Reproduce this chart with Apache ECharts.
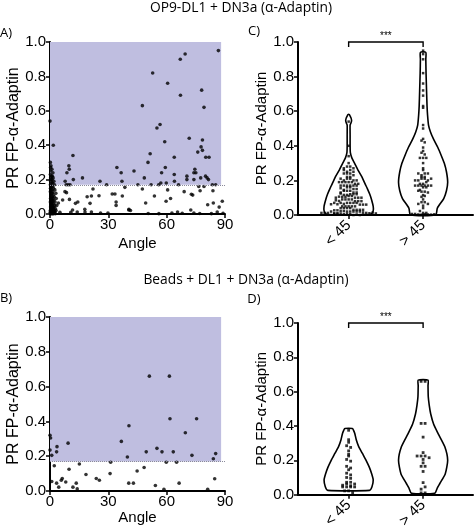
<!DOCTYPE html>
<html><head><meta charset="utf-8">
<script src="https://cdn.jsdelivr.net/npm/echarts@6/dist/echarts.min.js"></script>
<style>html,body{margin:0;padding:0;background:#fff}#c{width:474px;height:531px}</style>
</head><body><div id="c"></div>
<script>
// ---------------- DATA ----------------
// Panel A: OP9-DL1 + DN3a, [angle, PR]
const opPointsHigh = [
  [86.6,0.95],[69.5,0.93],[67.0,0.90],[52.8,0.82],[60.5,0.76],[67.1,0.69],[78.0,0.72],[79.2,0.62],[47.5,0.63],
  [56.6,0.52],[55.0,0.50],[71.6,0.44],[78.4,0.43],[59.0,0.42],[77.7,0.39],[78.4,0.37],[76.0,0.36],[80.1,0.33],
  [81.8,0.33],[63.9,0.33],[51.5,0.35],[50.4,0.30],[59.3,0.27],[57.4,0.24],[63.9,0.23],[74.5,0.26],[74.0,0.24],
  [75.0,0.24],[70.4,0.22],[70.4,0.20],[74.0,0.20],[77.5,0.21],[80.0,0.22],[80.8,0.21],[81.5,0.20],[59.8,0.18],
  [55.9,0.17],[45.2,0.17],[52.0,0.17],[66.1,0.17],[83.5,0.17],[85.2,0.17],[60.5,0.14],[47.5,0.145],[53.7,0.105],
  [72.7,0.115],[73.4,0.11],[83.8,0.135],[77.2,0.135],[79.2,0.16],[49.2,0.064],[59.7,0.074],[88.6,0.074],
  [81.1,0.054],[84.0,0.064],[72.4,0.023],[65.6,0.012],[62.7,0.006],[74.0,0.006],[86.0,0.012],
  [50.5,0.003],[56.0,0.002],[68.0,0.004],[77.0,0.003],[83.0,0.002],[89.0,0.004],
  [57.0,0.18],[64.0,0.19],[76.5,0.16],[48.5,0.21],[69.0,0.13],[62.0,0.09],[87.0,0.04]
];
const opPointsLow = [
  [1.7,0.40],[0,0.54],[11.8,0.34],[9.9,0.26],[8.7,0.24],[16.7,0.21],[34.4,0.27],[25.7,0.19],[29.1,0.17],
  [37.0,0.19],[38.5,0.155],[43.2,0.25],[7.8,0.19],[8.3,0.17],[9.3,0.17],[10.3,0.17],[22.1,0.145],[19.1,0.10],
  [13.1,0.062],[14.3,0.07],[8.5,0.124],[10.0,0.085],[6.5,0.081],[17.9,0.027],[14.0,0.012],[18.0,0.012],
  [21.3,0.012],[26.0,0.006],[29.8,0.006],[20.6,0.062],[25.2,0.106],[32.0,0.116],[33.4,0.116],[34.0,0.07],
  [34.0,0.05],[37.2,0.105],[41.4,0.02],[40.6,0.027],[5.1,0.01],[10.7,0.01],[4.3,0.064],[7.7,0.13],
  [11.6,0.023],[21.3,0.105],[36.6,0.24],[40.5,0.023],[9.7,0.28],[12.0,0.2]
];
const opPointsNearAxis = [
  [0.2,0.30],[0.5,0.28],[0.3,0.27],[1.0,0.26],[0.4,0.25],[1.5,0.24],[0.2,0.23],[0.8,0.22],[1.2,0.22],[0.3,0.21],
  [1.6,0.21],[0.6,0.20],[1.1,0.20],[2.0,0.19],[0.4,0.19],[0.9,0.18],[1.4,0.18],[0.2,0.17],[2.3,0.17],[0.7,0.16],
  [1.3,0.16],[0.3,0.15],[1.8,0.15],[0.5,0.14],[1.0,0.14],[2.5,0.14],[0.2,0.13],[1.5,0.13],[0.8,0.12],[1.2,0.12],
  [3.0,0.12],[0.4,0.11],[1.7,0.11],[0.6,0.10],[1.1,0.10],[2.2,0.10],[0.3,0.09],[0.9,0.09],[1.6,0.09],[3.2,0.09],
  [0.5,0.08],[1.3,0.08],[2.0,0.08],[0.2,0.07],[0.8,0.07],[1.4,0.07],[2.6,0.07],[0.4,0.06],[1.0,0.06],[1.8,0.06],
  [0.6,0.05],[1.2,0.05],[2.4,0.05],[3.5,0.05],[0.3,0.04],[0.9,0.04],[1.5,0.04],[2.1,0.04],[0.5,0.03],[1.1,0.03],
  [1.9,0.03],[2.8,0.03],[0.2,0.02],[0.7,0.02],[1.3,0.02],[2.0,0.02],[3.1,0.02],[0.4,0.015],[1.0,0.012],[1.6,0.01],
  [2.5,0.014],[0.1,0.008],[0.6,0.005],[1.2,0.007],[1.8,0.005],[2.3,0.009],[0.3,0.0],[0.9,0.003],[1.5,0.0],[2.7,0.002]
];
// Panel B: Beads + DL1 + DN3a, [angle, PR]
const beadPoints = [
  [51.1,0.66],[61.4,0.66],[61.7,0.415],[75.4,0.415],[40.6,0.375],[69.6,0.335],[36.7,0.285],[9.3,0.275],[0,0.32],
  [0.3,0.305],[3.6,0.255],[3.4,0.225],[0.9,0.205],[0,0.235],[39.8,0.195],[49.5,0.225],[55.0,0.245],[57.6,0.225],
  [63.4,0.225],[73.0,0.205],[85.2,0.215],[84.0,0.185],[59.8,0.165],[65.1,0.165],[31.2,0.165],[2.2,0.145],
  [9.8,0.125],[15.1,0.155],[30.9,0.10],[18.5,0.095],[48.4,0.135],[44.8,0.115],[84.7,0.07],[0.9,0.055],
  [3.4,0.045],[6.3,0.072],[5.8,0.062],[8.1,0.052],[4.5,0.022],[11.8,0.022],[13.5,0.045],[14.0,0.012],
  [23.8,0.072],[25.4,0.062],[40.5,0.045],[42.9,0.045],[54.2,0.032],[58.6,0.01],[66.4,0.045],[81.1,0.01]
];
const threshold = 0.17;          // PR threshold (dotted line / shading bottom)
const shadeAngleMax = 88;        // shaded region right edge (angle)
const splitAngle = 45;
const groupLabels = ['< 45', '> 45'];
const groupPos = [1, 2];
const angleTicks = [0, 30, 60, 90];
const prTicks = [0, 0.2, 0.4, 0.6, 0.8, 1.0];
const sigLabel = '***';
// Violin density profiles (PR level, relative density 0..1)
const violinC_lowLevels  = [0.003,0.01,0.025,0.05,0.09,0.12,0.15,0.18,0.22,0.26,0.30,0.33,0.36,0.40,0.46,0.52,0.53,0.545,0.56,0.572,0.58];
const violinC_lowDensity = [0.85,0.95,1.0,1.0,0.93,0.86,0.77,0.67,0.54,0.38,0.24,0.13,0.07,0.06,0.06,0.06,0.09,0.12,0.1,0.06,0.03];
const violinC_highLevels  = [0.0,0.04,0.095,0.14,0.19,0.25,0.30,0.34,0.39,0.44,0.48,0.52,0.58,0.63,0.72,0.82,0.90,0.94];
const violinC_highDensity = [0.51,0.58,0.84,0.95,1.0,0.95,0.86,0.75,0.6,0.42,0.3,0.22,0.18,0.16,0.14,0.12,0.11,0.11];
const violinD_lowLevels  = [0.025,0.046,0.085,0.12,0.16,0.20,0.24,0.28,0.32,0.356,0.375,0.385];
const violinD_lowDensity = [0.85,0.95,1.0,0.94,0.84,0.71,0.56,0.41,0.31,0.25,0.2,0.15];
const violinD_highLevels  = [0.008,0.04,0.065,0.12,0.20,0.28,0.356,0.41,0.47,0.52,0.57,0.635,0.667];
const violinD_highDensity = [0.47,0.58,0.68,0.9,1.0,0.88,0.61,0.43,0.31,0.25,0.21,0.2,0.2];

// ---------------- BUILD ----------------
const opPoints = opPointsHigh.concat(opPointsLow, opPointsNearAxis);
const AX = 'Liberation Sans, Arial, sans-serif';
const TX = '"Open Sans", "Noto Sans", sans-serif';
const lavender = '#bfbee0';
const violinHalfWidth = 0.33; // x-axis units

function splitGroups(points) {
  const low = [], high = [];
  points.forEach(p => (p[0] < splitAngle ? low : high).push(p[1]));
  return [low, high];
}
function swarm(values, center, step, spacing) {
  const bins = {};
  values.forEach(v => { const b = Math.round(v / step); (bins[b] = bins[b] || []).push(v); });
  const out = [];
  Object.keys(bins).forEach(k => {
    const arr = bins[k], n = arr.length;
    arr.forEach((v, i) => out.push({ value: [center, v], symbolOffset: [(i - (n - 1) / 2) * spacing, 0] }));
  });
  return out;
}
function violinSeries(idx, profiles) {
  return {
    type: 'custom', xAxisIndex: idx, yAxisIndex: idx, clip: false, z: 3,
    data: profiles.map((p, i) => [i]),
    renderItem: function (params, api) {
      const i = api.value(0);
      const prof = profiles[i];
      const c = groupPos[i];
      const right = [], left = [];
      prof.levels.forEach((lv, k) => {
        right.push(api.coord([c + prof.dens[k] * violinHalfWidth, lv]));
        left.push(api.coord([c - prof.dens[k] * violinHalfWidth, lv]));
      });
      const pts = right.concat(left.reverse());
      return { type: 'polygon', shape: { points: pts, smooth: 0.2 },
        style: { fill: 'none', stroke: '#000', lineWidth: 1.6 } };
    }
  };
}
function bracketSeries(idx) {
  return {
    type: 'custom', xAxisIndex: idx, yAxisIndex: idx, clip: false, z: 4,
    data: [[groupPos[0], groupPos[1], 1.0]],
    renderItem: function (params, api) {
      const a = api.coord([api.value(0), api.value(2)]);
      const b = api.coord([api.value(1), api.value(2)]);
      return { type: 'group', children: [
        { type: 'polyline', shape: { points: [[a[0], a[1] + 5], [a[0], a[1]], [b[0], b[1]], [b[0], b[1] + 5]] },
          style: { stroke: '#000', lineWidth: 1.4, fill: 'none' } },
        { type: 'text', x: (a[0] + b[0]) / 2, y: a[1] - 1,
          style: { text: sigLabel, fill: '#000', font: '10px ' + AX, textAlign: 'center', textVerticalAlign: 'bottom' } }
      ]};
    }
  };
}

const axisLineStyle = { show: true, onZero: false, lineStyle: { color: '#000', width: 2 } };
const tickStyle = { show: true, length: 4, lineStyle: { color: '#000', width: 1.5 } };
const grids = [
  { left: 50, top: 42, width: 175, height: 172 },   // A
  { left: 50, top: 317, width: 175, height: 174 },  // B
  { left: 298, top: 42, width: 175, height: 173 },  // C
  { left: 298, top: 323, width: 175, height: 174 }  // D
];
function yAx(i, gap, nameSize) {
  return { gridIndex: i, type: 'value', min: prTicks[0], max: prTicks[prTicks.length - 1], interval: prTicks[1] - prTicks[0],
    name: 'PR FP-α-Adaptin', nameLocation: 'middle', nameGap: gap, nameRotate: 90,
    nameTextStyle: { color: '#000', fontSize: nameSize, fontFamily: AX },
    axisLine: axisLineStyle, axisTick: tickStyle, splitLine: { show: false },
    axisLabel: { color: '#000', fontSize: 15, fontFamily: AX, margin: 4, formatter: v => v.toFixed(1) } };
}
function xAngle(i, gap) {
  return { gridIndex: i, type: 'value', min: angleTicks[0], max: angleTicks[angleTicks.length - 1], interval: angleTicks[1] - angleTicks[0],
    name: 'Angle', nameLocation: 'middle', nameGap: gap,
    nameTextStyle: { color: '#000', fontSize: 15, fontFamily: AX },
    axisLine: axisLineStyle, axisTick: tickStyle, splitLine: { show: false },
    axisLabel: { color: '#000', fontSize: 15, fontFamily: AX, margin: 3 } };
}
function xGroup(i) {
  return { gridIndex: i, type: 'value', min: 0.32, max: 2.67,
    axisLine: axisLineStyle, splitLine: { show: false },
    axisTick: Object.assign({ customValues: groupPos }, tickStyle),
    axisLabel: { customValues: groupPos, color: '#000', fontSize: 15, fontFamily: AX, rotate: 45, margin: 8,
      formatter: v => groupLabels[groupPos.indexOf(Math.round(v))] } };
}
function scatterPanel(i, pts) {
  return { type: 'scatter', xAxisIndex: i, yAxisIndex: i, symbol: 'circle', symbolSize: 3.6,
    itemStyle: { color: '#000' }, data: pts, z: 3,
    markArea: { silent: true, itemStyle: { color: lavender, opacity: 1 },
      data: [[{ coord: [angleTicks[0], threshold] }, { coord: [shadeAngleMax, prTicks[prTicks.length - 1]] }]] },
    markLine: { silent: true, symbol: 'none', label: { show: false }, animation: false,
      lineStyle: { type: 'dotted', color: '#8a8a9a', width: 1 },
      data: [[{ coord: [angleTicks[0], threshold] }, { coord: [angleTicks[angleTicks.length - 1], threshold] }]] } };
}

const [cLow, cHigh] = splitGroups(opPoints);
const [dLow, dHigh] = splitGroups(beadPoints);

const series = [
  scatterPanel(0, opPoints),
  scatterPanel(1, beadPoints),
  violinSeries(2, [{ levels: violinC_lowLevels, dens: violinC_lowDensity }, { levels: violinC_highLevels, dens: violinC_highDensity }]),
  violinSeries(3, [{ levels: violinD_lowLevels, dens: violinD_lowDensity }, { levels: violinD_highLevels, dens: violinD_highDensity }]),
  { type: 'scatter', xAxisIndex: 2, yAxisIndex: 2, symbol: 'rect', symbolSize: 2.5, itemStyle: { color: '#000' }, z: 4,
    data: swarm(cLow, groupPos[0], 0.017, 3.2).concat(swarm(cHigh, groupPos[1], 0.017, 3.2)) },
  { type: 'scatter', xAxisIndex: 3, yAxisIndex: 3, symbol: 'rect', symbolSize: 2.8, itemStyle: { color: '#000' }, z: 4,
    data: swarm(dLow, groupPos[0], 0.02, 4).concat(swarm(dHigh, groupPos[1], 0.02, 4)) },
  bracketSeries(2),
  bracketSeries(3)
];

const chart = echarts.init(document.getElementById('c'), null, { renderer: 'canvas' });
chart.setOption({
  animation: false,
  backgroundColor: '#fff',
  grid: grids,
  xAxis: [xAngle(0, 22), xAngle(1, 17), xGroup(2), xGroup(3)],
  yAxis: [yAx(0, 25, 16), yAx(1, 25, 16), yAx(2, 23, 15), yAx(3, 23, 15)],
  series: series,
  graphic: [
    { type: 'text', x: 241, y: 8, style: { text: 'OP9-DL1 + DN3a (α-Adaptin)', font: '13.8px ' + TX, fill: '#000', textAlign: 'center', textVerticalAlign: 'middle' } },
    { type: 'text', x: 246, y: 280, style: { text: 'Beads + DL1 + DN3a (α-Adaptin)', font: '13.8px ' + TX, fill: '#000', textAlign: 'center', textVerticalAlign: 'middle' } },
    { type: 'text', x: 6, y: 33, style: { text: 'A)', font: '13px ' + TX, fill: '#000', textAlign: 'center', textVerticalAlign: 'middle' } },
    { type: 'text', x: 254, y: 31, style: { text: 'C)', font: '13px ' + TX, fill: '#000', textAlign: 'center', textVerticalAlign: 'middle' } },
    { type: 'text', x: 6, y: 298, style: { text: 'B)', font: '13px ' + TX, fill: '#000', textAlign: 'center', textVerticalAlign: 'middle' } },
    { type: 'text', x: 254, y: 299, style: { text: 'D)', font: '13px ' + TX, fill: '#000', textAlign: 'center', textVerticalAlign: 'middle' } }
  ]
});
</script></body></html>
